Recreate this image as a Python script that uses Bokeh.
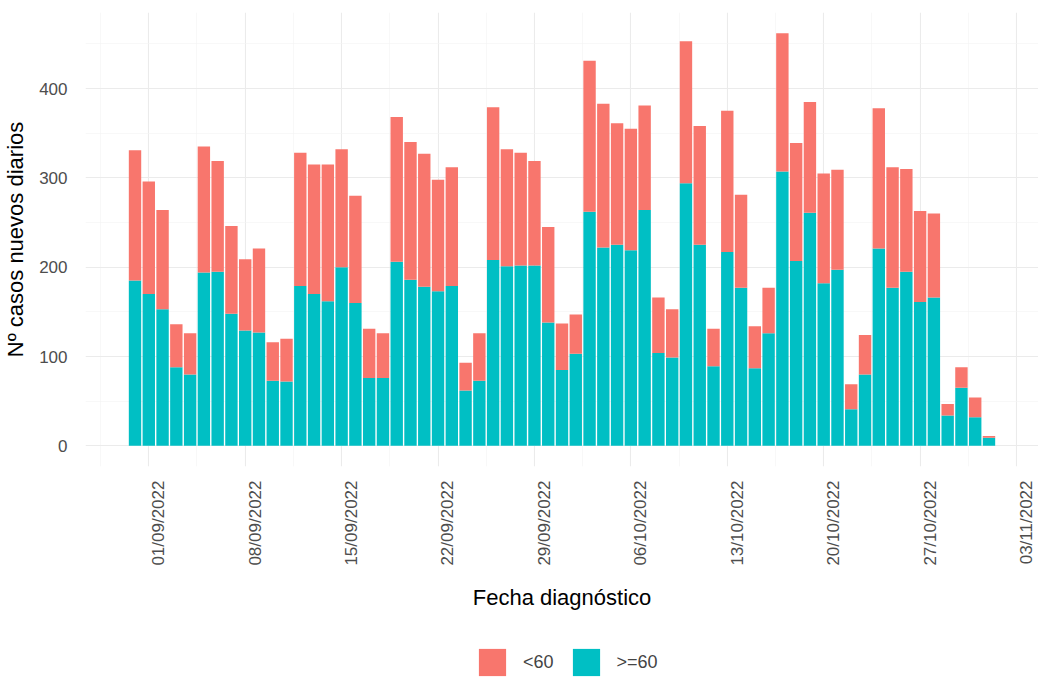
import math
import pandas as pd
from bokeh.plotting import figure
from bokeh.layouts import column
from bokeh.models import (ColumnDataSource, FixedTicker, DatetimeTickFormatter,
                          Range1d, Legend, LegendItem)
from bokeh.embed import file_html
from bokeh.resources import INLINE

# ---- data ----
start_date = "2022-08-31"
n_days = 63
dates = pd.date_range(start_date, periods=n_days, freq="D")

ge60 = [185, 170, 153, 88, 80, 194, 195, 148, 129, 127, 73, 72, 179, 170, 162,
        200, 160, 76, 76, 206, 186, 178, 173, 179, 62, 73, 208, 201, 202, 202,
        138, 85, 103, 262, 222, 225, 219, 264, 104, 99, 294, 225, 89, 217, 177,
        87, 126, 307, 207, 261, 182, 197, 41, 80, 221, 177, 195, 161, 166, 34,
        65, 32, 9]
lt60 = [146, 126, 111, 48, 46, 141, 124, 98, 80, 94, 43, 48, 149, 145, 153,
        132, 120, 55, 50, 162, 154, 149, 125, 133, 31, 53, 171, 131, 126, 117,
        107, 52, 44, 169, 161, 136, 136, 117, 62, 54, 159, 133, 42, 158, 104,
        47, 51, 155, 132, 124, 123, 112, 28, 44, 157, 135, 115, 102, 94, 13,
        23, 22, 2]
group_labels = ["<60", ">=60"]
group_colors = ["#F8766D", "#00BFC4"]

tick_dates = ["2022-09-01", "2022-09-08", "2022-09-15", "2022-09-22", "2022-09-29",
              "2022-10-06", "2022-10-13", "2022-10-20", "2022-10-27", "2022-11-03"]
y_ticks = [0, 100, 200, 300, 400]

# ---- derived ----
def ms(ts):
    return pd.Timestamp(ts).value / 1e6

DAY = 86400000.0
total = [a + b for a, b in zip(ge60, lt60)]
src = ColumnDataSource(dict(x=dates, ge60=ge60, lt60=lt60, total=total,
                            zero=[0] * n_days))

major_x = [ms(d) for d in tick_dates]
minor_x = [major_x[0] - 3.5 * DAY] + [m + 3.5 * DAY for m in major_x[:-1]]
# ggplot draws rotated labels just to the right of their tick
label_x = [m + 0.72 * DAY for m in major_x]
ymax = max(total)
yexp = 0.05 * ymax
dmin, dmax = ms(dates[0]) - 0.45 * DAY, ms(dates[-1]) + 0.45 * DAY
xexp = 0.05 * (dmax - dmin)

p = figure(frame_width=953, frame_height=454, output_backend="svg",
           toolbar_location=None, x_axis_type="datetime",
           x_range=Range1d(dmin - xexp, dmax + xexp),
           y_range=Range1d(-yexp, ymax + yexp),
           min_border_left=0, min_border_right=0, min_border_top=12,
           min_border_bottom=0)
p.outline_line_color = None
p.background_fill_color = "white"

p.vbar(x="x", width=0.9 * DAY, bottom="zero", top="ge60", source=src,
       fill_color=group_colors[1], line_color=None)
p.vbar(x="x", width=0.9 * DAY, bottom="ge60", top="total", source=src,
       fill_color=group_colors[0], line_color=None)

p.xaxis.ticker = FixedTicker(ticks=label_x)
p.xgrid.ticker = FixedTicker(ticks=major_x, minor_ticks=minor_x)
p.xaxis.formatter = DatetimeTickFormatter(days="%d/%m/%Y", months="%d/%m/%Y",
                                          years="%d/%m/%Y", hours="%d/%m/%Y")
p.yaxis.ticker = FixedTicker(ticks=y_ticks, minor_ticks=[50, 150, 250, 350, 450])

for ax in (p.xaxis, p.yaxis):
    ax.axis_line_color = None
    ax.major_tick_line_color = None
    ax.minor_tick_line_color = None
    ax.major_label_text_color = "#4D4D4D"
    ax.major_label_text_font = "Liberation Sans"
    ax.major_label_text_font_size = "17px"
    ax.axis_label_text_font = "Liberation Sans"
    ax.axis_label_text_font_size = "22px"
    ax.axis_label_text_font_style = "normal"
    ax.axis_label_text_color = "black"

p.xaxis.axis_label = "Fecha diagnóstico"
p.yaxis.axis_label = "Nº casos nuevos diarios"
p.xaxis.major_label_orientation = math.pi / 2
p.xaxis.major_label_standoff = 8
p.xaxis.axis_label_standoff = 16
p.yaxis.major_label_standoff = 12
p.yaxis.axis_label_standoff = 8

for g in (p.xgrid, p.ygrid):
    g.grid_line_color = "#EBEBEB"
    g.grid_line_width = 1.1
    g.minor_grid_line_color = "#F3F3F3"
    g.minor_grid_line_width = 0.6

# ---- legend strip (separate small figure; its bars fall outside its view) ----
lg = figure(width=1030, height=70, output_backend="svg",
            toolbar_location=None, x_axis_location=None, y_axis_location=None,
            min_border=0, x_range=Range1d(0, 1), y_range=Range1d(0, 1))
lg.outline_line_color = None
lg.grid.visible = False
k_lt = lg.vbar(x="x", width=0.9 * DAY, bottom="ge60", top="total", source=src,
               fill_color=group_colors[0], line_color=None)
k_ge = lg.vbar(x="x", width=0.9 * DAY, bottom="zero", top="ge60", source=src,
               fill_color=group_colors[1], line_color=None)
legend = Legend(items=[LegendItem(label=group_labels[0], renderers=[k_lt]),
                       LegendItem(label=group_labels[1], renderers=[k_ge])],
                orientation="horizontal", location=(390, 3),
                glyph_width=34, glyph_height=34,
                label_text_font="Liberation Sans", label_text_font_size="18px",
                label_standoff=14, spacing=15, padding=0, margin=0,
                border_line_color=None, background_fill_alpha=0)
lg.add_layout(legend, "center")

layout = column(p, lg, spacing=0)
open("out.html", "w").write(file_html(layout, INLINE))
